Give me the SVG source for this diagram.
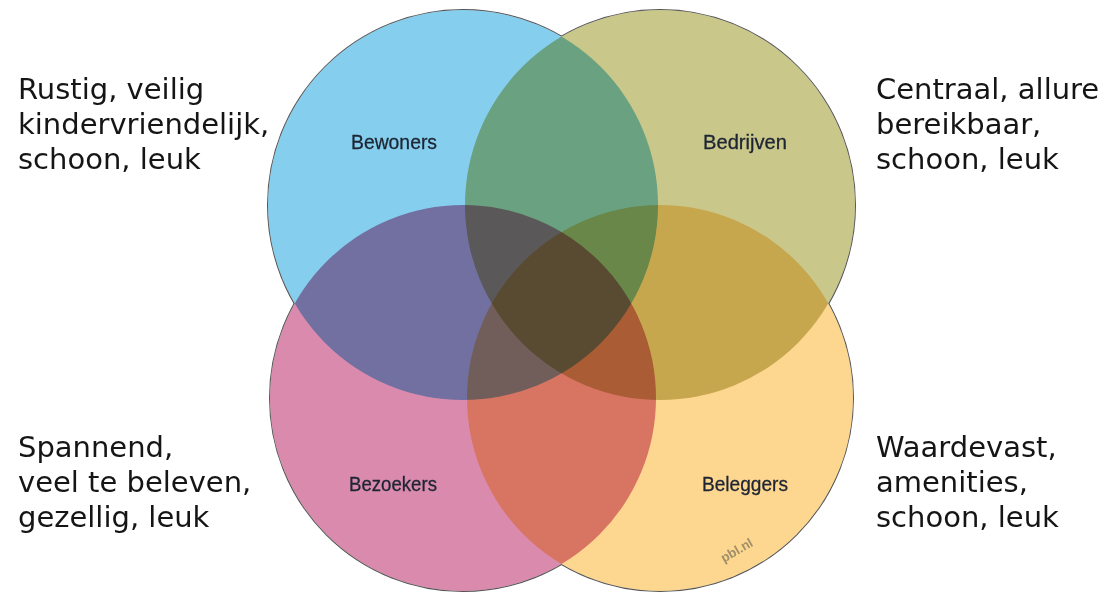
<svg xmlns="http://www.w3.org/2000/svg" width="1112" height="594" viewBox="0 0 1112 594">
<style>
.side{font-family:"DejaVu Sans",Verdana,sans-serif;font-size:29px;fill:#151515}
.lab{font-family:"Liberation Sans Narrow","Liberation Sans",Arial,sans-serif;font-size:21px;fill:#1d2433;stroke:#1d2433;stroke-width:0.3;text-anchor:middle}
.out{fill:none;stroke:#555;stroke-width:2}
.wht{fill:#fff}
.fill{mix-blend-mode:multiply}
</style>
<rect width="1112" height="594" fill="#fff"/>
<g id="outlines">
<circle class="out" cx="463" cy="205" r="195"/>
<circle class="out" cx="660" cy="205" r="195"/>
<circle class="out" cx="463" cy="398" r="193"/>
<circle class="out" cx="660" cy="398" r="193"/>
<circle class="wht" cx="463" cy="205" r="195"/>
<circle class="wht" cx="660" cy="205" r="195"/>
<circle class="wht" cx="463" cy="398" r="193"/>
<circle class="wht" cx="660" cy="398" r="193"/>
</g>
<g id="bewoners">
<circle class="fill" cx="463" cy="205" r="195" fill="#85CEEE"/>
<text class="lab" x="394" y="149" textLength="86" lengthAdjust="spacingAndGlyphs">Bewoners</text>
</g>
<g id="bedrijven">
<circle class="fill" cx="660" cy="205" r="195" fill="#C9C78A"/>
<text class="lab" x="745" y="149" textLength="84" lengthAdjust="spacingAndGlyphs">Bedrijven</text>
</g>
<g id="bezoekers">
<circle class="fill" cx="463" cy="398" r="193" fill="#DA8BAD"/>
<text class="lab" x="393" y="491" textLength="88" lengthAdjust="spacingAndGlyphs">Bezoekers</text>
</g>
<g id="beleggers">
<circle class="fill" cx="660" cy="398" r="193" fill="#FDD690"/>
<text class="lab" x="745" y="491" textLength="86" lengthAdjust="spacingAndGlyphs">Beleggers</text>
</g>
<text x="739" y="554" transform="rotate(-30 739 554)" font-family="Liberation Sans,Arial,sans-serif" font-size="13" font-weight="bold" fill="#a09068" text-anchor="middle">pbl.nl</text>
<g id="text-bewoners">
<text class="side" x="18" y="99">Rustig, veilig</text>
<text class="side" x="18" y="134">kindervriendelijk,</text>
<text class="side" x="18" y="169">schoon, leuk</text>
</g>
<g id="text-bedrijven">
<text class="side" x="876" y="99">Centraal, allure</text>
<text class="side" x="876" y="134">bereikbaar,</text>
<text class="side" x="876" y="169">schoon, leuk</text>
</g>
<g id="text-bezoekers">
<text class="side" x="18" y="457">Spannend,</text>
<text class="side" x="18" y="492">veel te beleven,</text>
<text class="side" x="18" y="527">gezellig, leuk</text>
</g>
<g id="text-beleggers">
<text class="side" x="876" y="457">Waardevast,</text>
<text class="side" x="876" y="492">amenities,</text>
<text class="side" x="876" y="527">schoon, leuk</text>
</g>
</svg>
